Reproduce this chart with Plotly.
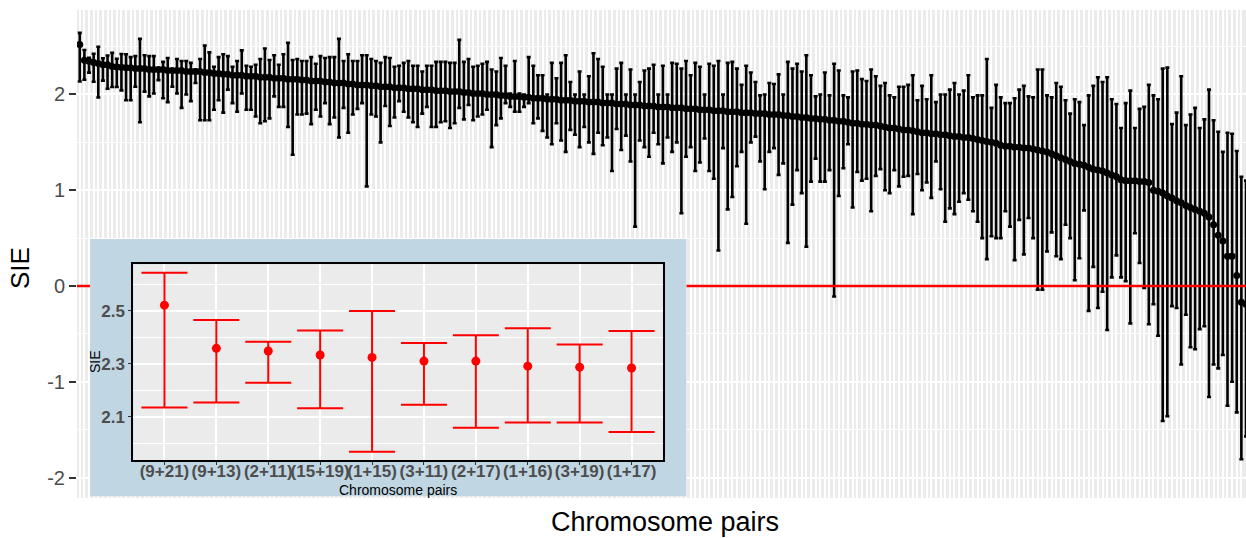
import plotly.graph_objects as go

# ---------------- data ----------------
sie_mean = [
    2.521, 2.358, 2.348, 2.333, 2.324, 2.310, 2.310, 2.291, 2.287, 2.284,
    2.28, 2.28, 2.27, 2.27, 2.27, 2.26, 2.26, 2.26, 2.26, 2.25,
    2.25, 2.25, 2.25, 2.24, 2.24, 2.24, 2.24, 2.23, 2.23, 2.22,
    2.22, 2.21, 2.21, 2.20, 2.20, 2.20, 2.19, 2.19, 2.19, 2.18,
    2.18, 2.18, 2.17, 2.17, 2.17, 2.16, 2.16, 2.16, 2.15, 2.15,
    2.14, 2.14, 2.14, 2.13, 2.13, 2.12, 2.12, 2.12, 2.11, 2.11,
    2.10, 2.10, 2.10, 2.09, 2.09, 2.08, 2.08, 2.08, 2.07, 2.07,
    2.07, 2.06, 2.06, 2.06, 2.05, 2.05, 2.05, 2.04, 2.04, 2.04,
    2.03, 2.03, 2.03, 2.02, 2.02, 2.01, 2.01, 2.01, 2.00, 2.00,
    2.00, 1.99, 1.99, 1.98, 1.98, 1.98, 1.97, 1.97, 1.96, 1.96,
    1.96, 1.95, 1.95, 1.95, 1.94, 1.94, 1.94, 1.93, 1.93, 1.93,
    1.92, 1.92, 1.92, 1.91, 1.91, 1.91, 1.90, 1.90, 1.90, 1.89,
    1.89, 1.89, 1.88, 1.88, 1.88, 1.87, 1.87, 1.87, 1.86, 1.86,
    1.86, 1.85, 1.85, 1.85, 1.84, 1.84, 1.84, 1.83, 1.83, 1.83,
    1.82, 1.82, 1.82, 1.81, 1.81, 1.81, 1.80, 1.80, 1.80, 1.79,
    1.79, 1.79, 1.78, 1.78, 1.77, 1.77, 1.76, 1.76, 1.75, 1.75,
    1.74, 1.74, 1.73, 1.73, 1.72, 1.72, 1.71, 1.70, 1.70, 1.69,
    1.69, 1.68, 1.68, 1.67, 1.66, 1.65, 1.65, 1.64, 1.63, 1.63,
    1.62, 1.61, 1.60, 1.60, 1.59, 1.59, 1.58, 1.58, 1.57, 1.56,
    1.56, 1.55, 1.55, 1.54, 1.53, 1.52, 1.51, 1.50, 1.49, 1.47,
    1.46, 1.46, 1.45, 1.45, 1.44, 1.44, 1.43, 1.42, 1.41, 1.40,
    1.38, 1.36, 1.34, 1.32, 1.30, 1.28, 1.27, 1.26, 1.24, 1.22,
    1.21, 1.20, 1.18, 1.16, 1.14, 1.11, 1.10, 1.10, 1.10, 1.09,
    1.09, 1.08, 1.00, 0.99, 0.97, 0.94, 0.92, 0.89, 0.87, 0.84,
    0.82, 0.80, 0.78, 0.76, 0.72, 0.64, 0.53, 0.47, 0.31, 0.31,
    0.11, -0.17, -0.19,
]

sie_upper = [
    2.643, 2.465, 2.383, 2.425, 2.499, 2.378, 2.407, 2.434, 2.373, 2.423,
    2.42, 2.39, 2.40, 2.58, 2.41, 2.40, 2.40, 2.27, 2.34, 2.38,
    2.26, 2.37, 2.35, 2.35, 2.33, 2.26, 2.37, 2.51, 2.44, 2.29,
    2.39, 2.42, 2.40, 2.29, 2.35, 2.46, 2.30, 2.29, 2.31, 2.37,
    2.48, 2.36, 2.41, 2.31, 2.42, 2.54, 2.36, 2.37, 2.35, 2.35,
    2.39, 2.32, 2.40, 2.38, 2.39, 2.39, 2.58, 2.35, 2.42, 2.35,
    2.35, 2.41, 2.41, 2.37, 2.35, 2.33, 2.39, 2.38, 2.29, 2.30,
    2.33, 2.35, 2.30, 2.30, 2.24, 2.30, 2.30, 2.34, 2.34, 2.34,
    2.33, 2.33, 2.57, 2.34, 2.37, 2.29, 2.30, 2.32, 2.34, 2.26,
    2.24, 2.38, 2.30, 2.01, 2.35, 2.01, 2.00, 2.39, 2.30, 2.20,
    2.20, 2.00, 2.33, 2.17, 2.33, 2.41, 2.13, 2.00, 2.24, 2.00,
    2.19, 2.43, 2.37, 2.29, 2.00, 2.00, 2.27, 2.33, 2.00, 2.26,
    2.00, 2.13, 2.25, 2.27, 2.31, 2.00, 2.30, 2.00, 2.33, 2.32,
    2.27, 2.35, 2.20, 2.33, 2.29, 2.00, 2.32, 2.30, 2.35, 2.00,
    2.33, 2.34, 2.27, 2.10, 2.30, 2.23, 2.13, 1.99, 2.00, 2.12,
    2.11, 2.21, 2.00, 2.34, 2.27, 2.32, 2.24, 2.41, 2.20, 1.98,
    2.00, 2.23, 1.99, 2.32, 2.25, 1.99, 1.97, 2.24, 2.25, 2.16,
    2.14, 2.26, 2.19, 2.09, 2.12, 1.99, 1.97, 2.08, 2.08, 2.10,
    2.20, 1.94, 2.09, 1.95, 2.20, 1.92, 2.00, 2.00, 2.05, 2.12,
    2.00, 2.04, 2.20, 1.97, 1.99, 1.99, 2.37, 1.86, 2.10, 1.97,
    1.91, 1.91, 1.96, 2.05, 2.09, 1.98, 1.97, 2.26, 2.26, 1.99,
    1.97, 2.12, 2.08, 1.94, 1.80, 1.95, 1.92, 1.68, 1.99, 2.09,
    2.18, 2.13, 2.18, 1.95, 1.90, 1.65, 1.91, 2.04, 1.65, 1.85,
    1.87, 2.10, 1.99, 1.95, 2.27, 2.28, 1.69, 1.81, 2.19, 1.68,
    1.79, 1.86, 1.65, 1.74, 2.05, 1.73, 1.61, 1.40, 1.60, 1.59,
    1.41, 1.14, 1.10,
]

sie_lower = [
    2.135, 2.154, 2.228, 2.132, 1.968, 2.145, 2.059, 2.078, 2.078, 2.043,
    1.94, 1.94, 2.08, 1.71, 2.03, 1.98, 2.01, 2.15, 1.96, 1.92,
    2.08, 2.01, 1.86, 2.00, 1.93, 2.12, 1.73, 1.73, 1.73, 1.84,
    1.94, 1.81, 2.05, 1.91, 1.82, 2.01, 1.84, 1.84, 1.77, 1.70,
    1.72, 1.75, 1.98, 1.87, 1.87, 1.66, 1.37, 1.79, 1.79, 1.80,
    1.69, 1.84, 1.77, 1.91, 1.69, 1.76, 1.55, 1.86, 1.60, 1.79,
    1.85, 1.91, 1.04, 1.79, 1.77, 1.50, 1.88, 1.67, 1.76, 1.93,
    1.82, 1.76, 1.71, 1.66, 1.80, 1.87, 1.66, 1.66, 1.71, 1.72,
    1.65, 1.70, 1.86, 1.74, 1.89, 1.73, 1.77, 1.79, 1.84, 1.45,
    1.68, 1.75, 1.91, 1.87, 1.82, 1.82, 1.87, 1.91, 1.70, 1.75,
    1.62, 1.55, 1.48, 1.70, 1.52, 1.40, 1.63, 1.58, 1.45, 1.66,
    1.50, 1.38, 1.60, 1.47, 1.55, 1.20, 1.64, 1.42, 1.57, 1.30,
    0.62, 1.52, 1.45, 1.35, 1.60, 1.48, 1.28, 1.55, 1.40, 1.50,
    0.76, 1.35, 1.45, 1.20, 1.29, 1.54, 1.20, 1.12, 0.37, 1.44,
    0.80, 0.93, 1.25, 1.40, 0.65, 1.50, 1.56, 1.30, 1.01, 1.40,
    1.44, 1.16, 1.28, 0.45, 0.85, 1.21, 0.97, 0.41, 1.09, 1.33,
    1.09, 1.09, 1.21, -0.11, 0.94, 1.23, 1.48, 0.82, 1.19, 1.10,
    1.12, 0.78, 1.15, 1.22, 1.00, 0.97, 1.21, 1.04, 1.14, 1.15,
    0.75, 1.17, 1.00, 1.08, 0.92, 1.30, 1.01, 0.67, 0.81, 0.75,
    0.88, 0.97, 0.90, 0.78, 0.67, 0.50, 0.28, 0.52, 0.50, 0.50,
    0.78, 0.62, 0.27, 0.69, 0.33, 0.71, 0.50, -0.04, -0.04, 0.36,
    0.56, 0.31, 0.28, 0.64, 0.50, 0.06, 0.29, 0.79, -0.26, 0.20,
    -0.23, -0.06, -0.46, 0.09, 0.32, 0.09, 0.05, -0.39, 0.55, 0.24,
    -0.02, -0.40, -0.19, -0.52, -1.41, -1.36, -0.21, -0.23, -0.82, -0.30,
    -0.64, -0.66, -0.45, -0.42, -1.16, -0.82, -0.86, -0.72, -1.25, -1.00,
    -1.32, -1.81, -1.57,
]

# inset: the ten highest-ranked pairs
top_pairs = ["(9+21)", "(9+13)", "(2+11)", "(15+19)", "(1+15)",
             "(3+11)", "(2+17)", "(1+16)", "(3+19)", "(1+17)"]
top_mean = sie_mean[:10]
top_upper = sie_upper[:10]
top_lower = sie_lower[:10]

main_yticks = [-2, -1, 0, 1, 2]
inset_yticks = [2.1, 2.3, 2.5]

# ---------------- layout geometry (pixels) ----------------
W, H = 1246, 538
L, R, T, B = 77, 0, 10, 40
PW, PH = W - L - R, H - T - B


def fx(px):
    return (px - L) / PW


def fy(py):
    return (H - B - py) / PH


FONT = "Liberation Sans, Arial, Helvetica, sans-serif"
rank = list(range(len(sie_mean)))

fig = go.Figure()

# main chart: error bars with points
fig.add_trace(go.Scatter(
    x=rank, y=sie_mean, mode="markers",
    marker=dict(color="black", size=7),
    error_y=dict(type="data", symmetric=False,
                 array=[u - m for u, m in zip(sie_upper, sie_mean)],
                 arrayminus=[m - l for m, l in zip(sie_mean, sie_lower)],
                 color="black", thickness=2.6, width=2),
    xaxis="x", yaxis="y", hoverinfo="skip", showlegend=False,
))
# red reference line at zero
fig.add_trace(go.Scatter(
    x=[-0.6, len(sie_mean) - 0.4], y=[0, 0], mode="lines",
    line=dict(color="#FF0000", width=2.5),
    xaxis="x", yaxis="y", hoverinfo="skip", showlegend=False,
))

# inset background box (its own subplot so that it covers the main chart)
fig.add_trace(go.Scatter(
    x=[0, 1, 1, 0, 0], y=[0, 0, 1, 1, 0], mode="lines", fill="toself",
    fillcolor="#C1D6E3", line=dict(width=0, color="#C1D6E3"),
    xaxis="x2", yaxis="y2", hoverinfo="skip", showlegend=False,
))

# inset chart
fig.add_trace(go.Scatter(
    x=top_pairs, y=top_mean, mode="markers",
    marker=dict(color="#FF0000", size=9),
    error_y=dict(type="data", symmetric=False,
                 array=[u - m for u, m in zip(top_upper, top_mean)],
                 arrayminus=[m - l for m, l in zip(top_mean, top_lower)],
                 color="#FF0000", thickness=2, width=23),
    xaxis="x3", yaxis="y3", hoverinfo="skip", showlegend=False,
))

fig.update_layout(
    width=W, height=H, autosize=False,
    margin=dict(l=L, r=R, t=T, b=B, pad=0),
    paper_bgcolor="white", plot_bgcolor="#EBEBEB",
    showlegend=False,
    font=dict(family=FONT),
    xaxis=dict(domain=[0, 1], range=[-0.6, 252.0], tickmode="linear", tick0=0, dtick=1,
               showgrid=True, gridcolor="white", gridwidth=2.4,
               showticklabels=False, ticks="", zeroline=False, showline=False,
               fixedrange=True),
    yaxis=dict(domain=[0, 1], range=[-2.214, 2.882],
               tickmode="array", tickvals=main_yticks,
               ticktext=[str(v) for v in main_yticks],
               ticks="outside", ticklen=7, tickwidth=1.6, tickcolor="#333333",
               tickfont=dict(size=20, color="#4D4D4D", family=FONT),
               showgrid=True, gridcolor="white", gridwidth=2.4,
               minor=dict(tickvals=[-1.5, -0.5, 0.5, 1.5, 2.5], showgrid=True,
                          gridcolor="white", gridwidth=1.2, ticks=""),
               zeroline=False, showline=False, fixedrange=True),
    xaxis2=dict(domain=[fx(90), fx(686.5)], range=[0, 1], visible=False,
                fixedrange=True),
    yaxis2=dict(domain=[fy(496.5), fy(239)], range=[0, 1], visible=False,
                fixedrange=True),
    xaxis3=dict(domain=[fx(133.3), fx(662.7)], type="category",
                range=[-0.6, 9.6], tickangle=0, ticklabelstandoff=-8,
                showgrid=True, gridcolor="white", gridwidth=2,
                ticks="outside", ticklen=3, tickwidth=1.4, tickcolor="#333333",
                tickfont=dict(size=17, color="#4D4D4D", family=FONT, weight="bold"),
                showline=True, mirror=True, linecolor="black", linewidth=2,
                zeroline=False, fixedrange=True, anchor="y3"),
    yaxis3=dict(domain=[fy(460), fy(264.3)], range=[1.937, 2.675],
                tickmode="array", tickvals=inset_yticks,
                ticktext=[f"{v:.1f}" for v in inset_yticks],
                ticks="outside", ticklen=3, tickwidth=1.4, tickcolor="#333333",
                tickfont=dict(size=17, color="#4D4D4D", family=FONT, weight="bold"),
                showgrid=True, gridcolor="white", gridwidth=2,
                minor=dict(tickvals=[2.0, 2.2, 2.4, 2.6], showgrid=True,
                           gridcolor="white", gridwidth=1, ticks=""),
                showline=True, mirror=True, linecolor="black", linewidth=2,
                zeroline=False, fixedrange=True, anchor="x3"),
)

annos = [
    dict(text="SIE", x=fx(20), y=fy(268), textangle=-90,
         font=dict(size=26, color="black", family=FONT)),
    dict(text="Chromosome pairs", x=fx(665), y=fy(522),
         font=dict(size=27, color="black", family=FONT)),
    dict(text="SIE", x=fx(95), y=fy(362), textangle=-90,
         font=dict(size=14, color="black", family=FONT)),
    dict(text="Chromosome pairs", x=fx(398), y=fy(490),
         font=dict(size=14, color="black", family=FONT)),
]
for a in annos:
    a.update(xref="paper", yref="paper", showarrow=False,
             xanchor="center", yanchor="middle")
fig.update_layout(annotations=annos)

fig.write_html(
    "out.html",
    config={"responsive": False},
    post_script=("document.documentElement.style.overflow='hidden';"
                 "document.body.style.overflow='hidden';"
                 "document.body.style.margin='0';"),
)
